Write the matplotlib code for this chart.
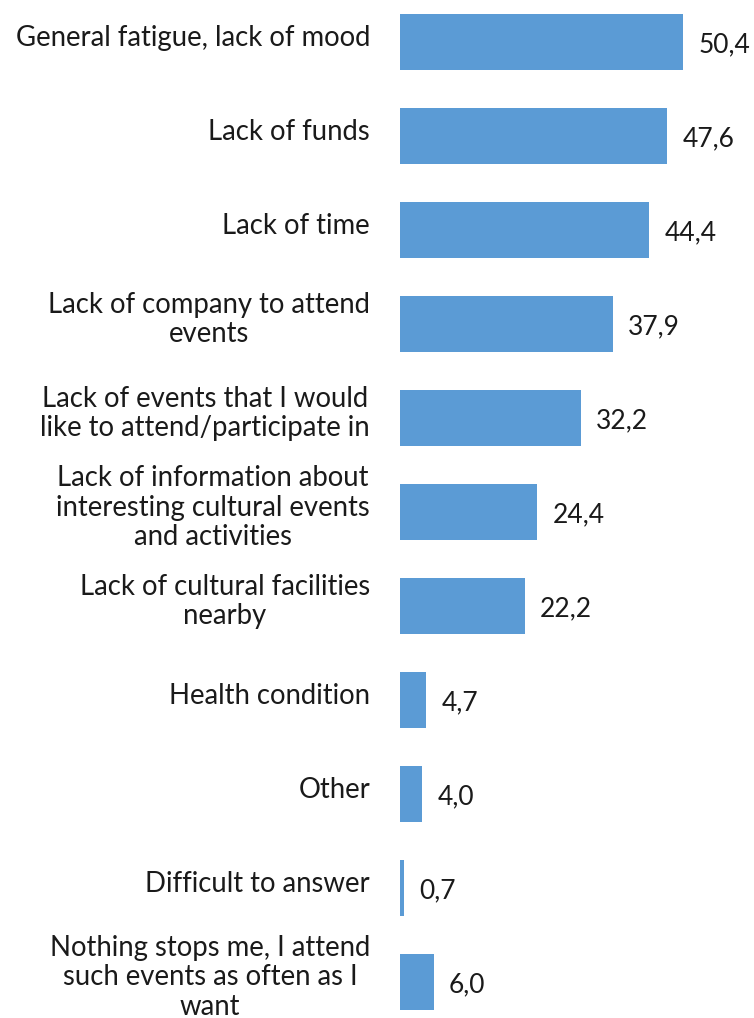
import matplotlib
matplotlib.use("Agg")
import matplotlib.pyplot as plt
from matplotlib.transforms import ScaledTranslation

plt.rcParams['font.family'] = ['Lato', 'DejaVu Sans']

# reasons for not attending cultural events, % of respondents
reasons = [
    "General fatigue, lack of mood",
    "Lack of funds",
    "Lack of time",
    "Lack of company to attend\nevents",
    "Lack of events that I would\nlike to attend/participate in",
    "Lack of information about\ninteresting cultural events\nand activities",
    "Lack of cultural facilities\nnearby",
    "Health condition",
    "Other",
    "Difficult to answer",
    "Nothing stops me, I attend\nsuch events as often as I\nwant",
]
shares = [50.4, 47.6, 44.4, 37.9, 32.2, 24.4, 22.2, 4.7, 4.0, 0.7, 6.0]

fig = plt.figure(figsize=(7.54, 10.18), dpi=100)
ax = fig.add_axes([400 / 754, 0, 354 / 754, 1])

pos = list(range(len(shares)))
ax.barh(pos, shares, height=0.6, color="#5B9BD5")

for y, v in zip(pos, shares):
    ax.annotate(f"{v:.1f}".replace(".", ","), (v, y), xytext=(11, -2),
                textcoords="offset points", ha="left", va="center",
                fontsize=19, color="#1a1a1a")

# category names to the left of the bars, nudged a little upward
lab_tr = ax.get_yaxis_transform() + ScaledTranslation(-0.30, 0.045, fig.dpi_scale_trans)
for y, name in zip(pos, reasons):
    ax.text(0, y, name, transform=lab_tr, ha="right", va="center",
            multialignment="center", linespacing=1.17,
            fontsize=19.8, color="#1a1a1a")

ax.set_xlim(0, 63)
ax.set_ylim(10.383, -0.447)
ax.set_xticks([])
ax.set_yticks([])
for s in ax.spines.values():
    s.set_visible(False)

fig.savefig("out.png", dpi=100)
